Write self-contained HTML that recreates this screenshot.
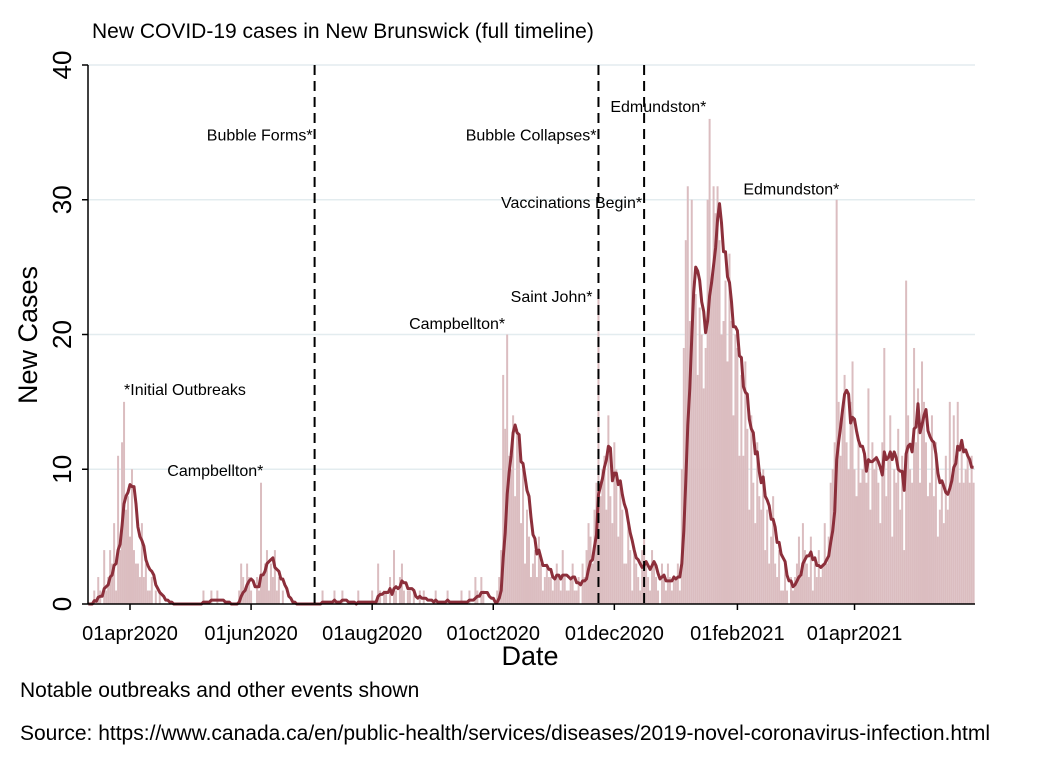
<!DOCTYPE html>
<html><head><meta charset="utf-8"><style>
body{margin:0;background:#fff;}
svg text{font-family:"Liberation Sans",Arial,sans-serif;}
</style></head><body>
<svg id="chart" width="1051" height="765" viewBox="0 0 1051 765" xmlns="http://www.w3.org/2000/svg">
<rect width="1051" height="765" fill="#fff"/>
<text x="92" y="38" font-size="21">New COVID-19 cases in New Brunswick (full timeline)</text>
<g id="grid"></g><g id="bars"></g><g id="line"></g><g id="events"></g><g id="axes"></g>
<text transform="translate(37,335) rotate(-90)" text-anchor="middle" font-size="27">New Cases</text>
<text x="530" y="665" text-anchor="middle" font-size="27">Date</text>
<text x="20" y="697" font-size="21">Notable outbreaks and other events shown</text>
<text x="20" y="740" font-size="21">Source: https://www.canada.ca/en/public-health/services/diseases/2019-novel-coronavirus-infection.html</text>
</svg>
<script>
const startDate = "2020-03-11";
const cases = [
0,0,0,1,0,2,1,0,4,1,
2,4,3,6,1,11,4,12,15,7,8,
5,10,4,3,3,2,6,2,3,1,
1,2,0,1,0,1,0,0,0,0,
0,0,0,0,0,0,0,0,0,0,
0,0,0,0,0,0,0,1,0,0,0,1,0,0,1,0,0,0,0,0,0,0,0,0,
0,1,3,2,1,3,2,
1,0,0,2,1,9,2,3,4,1,
3,2,4,1,2,0,1,0,0,0,
0,0,0,0,0,0,0,0,0,0,
0,0,0,0,0,0,1,0,0,0,
0,0,1,0,0,0,1,0,0,0,
0,0,0,0,1,0,0,0,0,0,0,
1,0,0,3,1,0,1,1,0,2,
0,4,1,0,2,3,1,0,1,1,
0,1,0,0,1,0,1,0,0,0,0,
0,1,0,0,0,0,0,1,0,0,
0,0,0,0,1,0,0,0,1,0,
0,2,1,0,2,1,0,0,0,0,
0,0,1,2,4,17,13,20,11,10,
14,8,13,12,6,10,3,7,5,2,
3,4,2,5,3,1,2,3,2,2,1,
2,3,2,1,4,2,1,1,2,3,
1,1,2,0,3,2,4,6,5,3,
7,9,23,8,10,11,7,14,8,6,
12,10,5,9,7,3,3,6,4,1,
4,3,2,1,4,5,3,2,1,4,
3,2,1,0,3,2,1,3,2,1,2,
2,3,1,10,19,27,31,21,30,24,
23,17,22,20,16,19,30,36,24,31,
29,31,27,20,21,24,18,26,21,14,20,
19,11,17,11,18,13,7,14,9,6,
12,8,7,10,4,7,3,5,8,3,
2,4,1,1,3,1,0,2,
1,2,3,5,2,6,4,3,2,5,
1,3,2,4,2,3,6,3,5,9,
10,12,30,15,11,14,17,12,10,15,18,
10,8,12,9,10,11,9,16,7,12,
10,11,9,6,12,19,8,11,14,5,
10,9,13,7,11,4,24,14,10,9,
19,12,16,9,18,15,12,8,9,14,
8,12,5,7,9,6,11,7,15,9,
14,11,15,9,12,9,10,11,9,11,9
];
const yTicks = [0,10,20,30,40];
const xTickDates = ["2020-04-01","2020-06-01","2020-08-01","2020-10-01","2020-12-01","2021-02-01","2021-04-01"];
const xTickLabels = ["01apr2020","01jun2020","01aug2020","01oct2020","01dec2020","01feb2021","01apr2021"];
const eventDates = ["2020-07-03","2020-11-23","2020-12-16"];
const annoText = ["Bubble Forms*","Bubble Collapses*","Edmundston*","Vaccinations Begin*","Saint John*","Campbellton*","*Initial Outbreaks","Campbellton*","Edmundston*"];
const annoDates = ["2020-07-03","2020-11-23","2020-11-30","2020-12-16","2020-11-21","2020-10-08","2020-03-30","2020-05-15","2021-02-05"];
const annoValues = [34.7,34.7,36.8,29.7,22.7,20.7,15.8,9.8,30.7];
const annoAnchor = ["end","end","start","end","end","end","start","middle","start"];

const NS="http://www.w3.org/2000/svg";
const X0=88,X1=975,Y0=604,Y1=65;
const APR1=Date.UTC(2020,3,1);
function dayOf(s){const p=s.split("-");return (Date.UTC(+p[0],p[1]-1,+p[2])-APR1)/86400000;}
const startDay=dayOf(startDate);
function xs(d){return 130+d*1.985;}
function ys(v){return Y0-(v/40)*(Y0-Y1);}
function mk(tag,attrs,parent){const e=document.createElementNS(NS,tag);for(const k in attrs)e.setAttribute(k,attrs[k]);document.getElementById(parent).appendChild(e);return e;}

yTicks.forEach(t=>{
  if(t>0){const g=mk("line",{x1:X0,x2:X1,y1:ys(t),y2:ys(t),stroke:"#e3ecef","stroke-width":1.5},"grid");
  
  }
});
cases.forEach((v,i)=>{
  const x=xs(startDay+i);
  const b=mk("rect",{x:x-1,y:ys(v),width:2,height:Y0-ys(v),fill:"#dbbdc0"},"bars");
  
  
});
let pts=[];
cases.forEach((v,i)=>{
  let s=0,n=0;for(let k=Math.max(0,i-6);k<=i;k++){s+=cases[k];n++;}
  pts.push(xs(startDay+i).toFixed(1)+","+ys(s/n).toFixed(1));
});
const ln=mk("polyline",{points:pts.join(" "),fill:"none",stroke:"#8c2f3b","stroke-width":3,"stroke-linejoin":"round"},"line");



eventDates.forEach(d=>{
  const x=xs(dayOf(d));
  const l=mk("line",{x1:x,x2:x,y1:Y1,y2:Y0,stroke:"#000","stroke-width":2,"stroke-dasharray":"10,6"},"events");
  
  
});
annoText.forEach((t,i)=>{
  const e=mk("text",{x:xs(dayOf(annoDates[i]))-2,y:ys(annoValues[i])+4,"font-size":16,"text-anchor":annoAnchor[i]},"events");
  e.textContent=t;
  
  
});

const ax=mk("line",{x1:X0,x2:X0,y1:Y1,y2:Y0,stroke:"#000","stroke-width":1.5},"axes");


const bx=mk("line",{x1:X0,x2:X1,y1:Y0,y2:Y0,stroke:"#000","stroke-width":1.5},"axes");


yTicks.forEach(t=>{
  const tk=mk("line",{x1:X0-6,x2:X0,y1:ys(t),y2:ys(t),stroke:"#000","stroke-width":1.5},"axes");
  
  
  const tl=mk("text",{transform:"translate(71,"+ys(t)+") rotate(-90)","text-anchor":"middle","font-size":26},"axes");
  tl.textContent=t;
  
  
});
xTickDates.forEach((d,i)=>{
  const x=xs(dayOf(d));
  const tk=mk("line",{x1:x,x2:x,y1:Y0,y2:Y0+6,stroke:"#000","stroke-width":1.5},"axes");
  
  
  const tl=mk("text",{x:x,y:Y0+36,"text-anchor":"middle","font-size":20},"axes");
  tl.textContent=xTickLabels[i];
  
  
});
</script>
</body></html>
